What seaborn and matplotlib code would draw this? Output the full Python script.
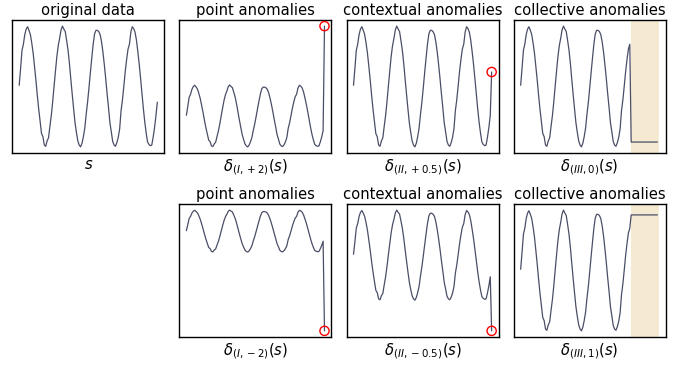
import numpy as np
import pandas as pd
import matplotlib
matplotlib.use("Agg")
import matplotlib.pyplot as plt
import seaborn as sns

# ---- data ----
base_series = [
    0.02, 0.30, 0.60, 0.70, 0.86, 0.95, 0.99, 0.93, 0.86, 0.72,
    0.55, 0.33, 0.10, -0.15, -0.38, -0.58, -0.78, -0.83, -0.97, -0.99,
    -0.90, -0.85, -0.66, -0.48, -0.25,
    0.01, 0.26, 0.50, 0.68, 0.80, 0.94, 1.00, 0.95, 0.91, 0.76,
    0.60, 0.38, 0.12, -0.13, -0.37, -0.60, -0.76, -0.90, -0.97, -1.00,
    -0.94, -0.83, -0.69, -0.46, -0.26,
    -0.02, 0.23, 0.47, 0.70, 0.87, 0.93, 0.93, 0.91, 0.86, 0.74,
    0.57, 0.36, 0.13, -0.12, -0.35, -0.60, -0.75, -0.91, -0.97, -0.99,
    -0.93, -0.84, -0.70, -0.40, -0.22,
    0.01, 0.25, 0.45, 0.62, 0.70, 0.90, 0.99, 0.96, 0.90, 0.77,
    0.58, 0.37, 0.13, -0.12, -0.37, -0.59, -0.77, -0.92, -0.96, -0.98,
    -0.97, -0.84, -0.68, -0.48, -0.26,
]
point_last_values = {"+2": 2.90, "-2": -4.75}
context_last_values = {"+0.5": 0.24, "-0.5": -1.68}
collective_start = 80
collective_end = 100
collective_levels = {"0": -0.92, "1": 0.92}

titles = ["original data", "point anomalies", "contextual anomalies", "collective anomalies"]
labels_top = [r"$s$", r"$\delta_{(I,+2)}(s)$", r"$\delta_{(II,+0.5)}(s)$", r"$\delta_{(III,0)}(s)$"]
labels_bottom = [r"$\delta_{(I,-2)}(s)$", r"$\delta_{(II,-0.5)}(s)$", r"$\delta_{(III,1)}(s)$"]

LINE = "#4a4e66"
SHADE = "#f5ead1"

sns.set_style("white")
plt.rcParams["font.family"] = ["DejaVu Sans"]
plt.rcParams["mathtext.fontset"] = "dejavusans"
plt.rcParams["text.color"] = "black"
plt.rcParams["axes.labelcolor"] = "black"

idx = np.arange(len(base_series))
base = np.array(base_series, dtype=float)


def series_point(v):
    s = base.copy()
    s[-1] = v
    return s


def series_collective(level):
    s = base.copy()
    s[collective_start:] = level
    return s


fig, axes = plt.subplots(2, 4, figsize=(6.91, 3.65), dpi=100)
fig.subplots_adjust(left=0.0178, right=0.9634, top=0.945, bottom=0.077,
                    wspace=0.1, hspace=0.385)

FS = 10.6


def draw(ax, y, title, xlabel, marker=False, shade=False):
    df = pd.DataFrame({"t": idx, "v": y})
    if shade:
        ax.axvspan(collective_start, collective_end, color=SHADE, lw=0, zorder=0)
    sns.lineplot(data=df, x="t", y="v", ax=ax, color=LINE, linewidth=0.9)
    if marker:
        sns.scatterplot(x=[idx[-1]], y=[y[-1]], ax=ax, s=44, facecolor="none",
                        edgecolor="red", linewidth=1.0, zorder=5)
    ax.set_xticks([])
    ax.set_yticks([])
    ax.set_title(title, fontsize=FS, pad=4, color="black")
    ax.set_xlabel(xlabel, fontsize=FS, labelpad=3, color="black")
    ax.set_ylabel("")
    for sp in ax.spines.values():
        sp.set_color("black")
        sp.set_linewidth(1.0)


draw(axes[0, 0], base, titles[0], labels_top[0])
draw(axes[0, 1], series_point(point_last_values["+2"]), titles[1], labels_top[1], marker=True)
draw(axes[0, 2], series_point(context_last_values["+0.5"]), titles[2], labels_top[2], marker=True)
draw(axes[0, 3], series_collective(collective_levels["0"]), titles[3], labels_top[3], shade=True)

axes[1, 0].axis("off")
draw(axes[1, 1], series_point(point_last_values["-2"]), titles[1], labels_bottom[0], marker=True)
draw(axes[1, 2], series_point(context_last_values["-0.5"]), titles[2], labels_bottom[1], marker=True)
draw(axes[1, 3], series_collective(collective_levels["1"]), titles[3], labels_bottom[2], shade=True)

fig.savefig("out.png", dpi=100)
